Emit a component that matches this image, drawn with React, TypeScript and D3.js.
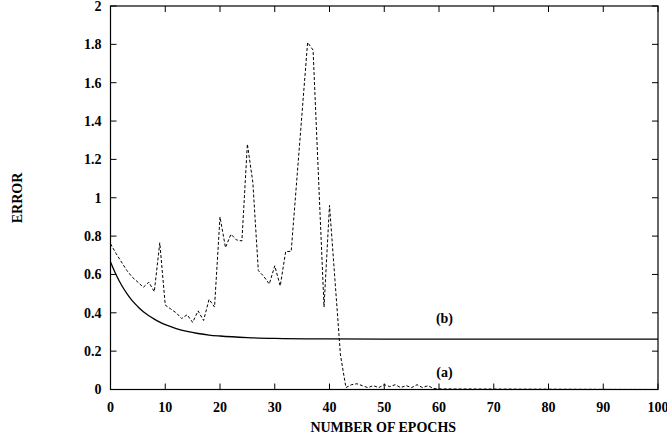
import * as d3 from 'd3'
import { useRef, useEffect } from 'react'

const xTicks = [0, 10, 20, 30, 40, 50, 60, 70, 80, 90, 100]
const yTicks = [0, 0.2, 0.4, 0.6, 0.8, 1, 1.2, 1.4, 1.6, 1.8, 2]

// curve (a): dashed
const epochsA = [0, 1, 2, 3, 4, 5, 6, 7, 8, 9, 10, 11, 12, 13, 14, 15, 16, 17, 18, 19, 20,
  21, 22, 23, 24, 25, 26, 27, 28, 29, 30, 31, 32, 33, 36, 37, 39, 40, 41, 42, 43,
  44, 45, 46, 47, 48, 49, 50, 51, 52, 53, 54, 55, 56, 57, 58, 59, 60, 100]
const errorA = [0.76, 0.71, 0.665, 0.62, 0.585, 0.56, 0.533, 0.56, 0.51, 0.765, 0.44, 0.42, 0.40, 0.37, 0.39, 0.35, 0.41, 0.36, 0.47, 0.43, 0.90,
  0.74, 0.81, 0.78, 0.775, 1.28, 1.08, 0.62, 0.59, 0.55, 0.645, 0.54, 0.72, 0.72, 1.81, 1.77, 0.43, 0.96, 0.57, 0.18, 0.01,
  0.025, 0.03, 0.02, 0.01, 0.02, 0.01, 0.025, 0.015, 0.025, 0.01, 0.02, 0.01, 0.025, 0.01, 0.02, 0.005, 0.003, 0]

// curve (b): solid
const epochsB = [0, 1, 2, 3, 4, 5, 6, 7, 8, 9, 10, 12, 14, 16, 18, 20, 25, 30, 40, 50, 100]
const errorB = [0.665, 0.6, 0.545, 0.5, 0.462, 0.432, 0.406, 0.385, 0.367, 0.351, 0.338, 0.318, 0.303, 0.292, 0.284, 0.279, 0.271, 0.267, 0.264, 0.263, 0.263]

const curveLabels = [
  { text: '(b)', x: 61, y: 0.37 },
  { text: '(a)', x: 61, y: 0.09 },
]

export default function App() {
  const svgRef = useRef<SVGSVGElement>(null)
  const width = 667
  const height = 437

  useEffect(() => {
    const svg = d3.select(svgRef.current)
    svg.selectAll('*').remove()

    const left = 110.5, right = 658, top = 6, bottom = 389.5
    const font = '"Liberation Serif", "Times New Roman", serif'

    const xScale = d3.scaleLinear().domain([0, 100]).range([left, right])
    const yScale = d3.scaleLinear().domain([0, 2]).range([bottom, top])

    const g = svg.append('g')

    // frame
    g.append('rect')
      .attr('x', left).attr('y', top)
      .attr('width', right - left).attr('height', bottom - top)
      .attr('fill', 'none').attr('stroke', 'black').attr('stroke-width', 1.2)

    // inward ticks on all sides
    const tl = 6
    xTicks.forEach(t => {
      const x = xScale(t)
      g.append('line').attr('x1', x).attr('x2', x).attr('y1', bottom).attr('y2', bottom - tl).attr('stroke', 'black')
      g.append('line').attr('x1', x).attr('x2', x).attr('y1', top).attr('y2', top + tl).attr('stroke', 'black')
      g.append('text').text(t)
        .attr('x', x).attr('y', bottom + 22)
        .attr('text-anchor', 'middle')
        .attr('font-family', font).attr('font-weight', 'bold').attr('font-size', 14)
    })
    yTicks.forEach(t => {
      const y = yScale(t)
      g.append('line').attr('x1', left).attr('x2', left + tl).attr('y1', y).attr('y2', y).attr('stroke', 'black')
      g.append('line').attr('x1', right).attr('x2', right - tl).attr('y1', y).attr('y2', y).attr('stroke', 'black')
      g.append('text').text(d3.format('~g')(t))
        .attr('x', left - 9).attr('y', y)
        .attr('dy', '0.35em')
        .attr('text-anchor', 'end')
        .attr('font-family', font).attr('font-weight', 'bold').attr('font-size', 14)
    })

    const line = d3.line<[number, number]>()
      .x(d => xScale(d[0]))
      .y(d => yScale(d[1]))

    g.append('path')
      .datum(epochsB.map((e, i) => [e, errorB[i]] as [number, number]))
      .attr('d', line.curve(d3.curveMonotoneX))
      .attr('fill', 'none').attr('stroke', 'black').attr('stroke-width', 1.3)

    g.append('path')
      .datum(epochsA.map((e, i) => [e, errorA[i]] as [number, number]))
      .attr('d', line.curve(d3.curveLinear))
      .attr('fill', 'none').attr('stroke', 'black').attr('stroke-width', 1)
      .attr('stroke-dasharray', '3,2')

    curveLabels.forEach(l => {
      g.append('text').text(l.text)
        .attr('x', xScale(l.x)).attr('y', yScale(l.y))
        .attr('dy', '0.35em')
        .attr('text-anchor', 'middle')
        .attr('font-family', font).attr('font-weight', 'bold').attr('font-size', 14)
    })

    g.append('text').text('NUMBER OF EPOCHS')
      .attr('x', (left + right) / 2 - 1).attr('y', 432)
      .attr('text-anchor', 'middle')
      .attr('font-family', font).attr('font-weight', 'bold').attr('font-size', 14)

    g.append('text').text('ERROR')
      .attr('transform', `translate(22,198) rotate(-90)`)
      .attr('text-anchor', 'middle')
      .attr('font-family', font).attr('font-weight', 'bold').attr('font-size', 14)
  }, [])

  return (
    <svg ref={svgRef} width={width} height={height}
      style={{ position: 'absolute', left: 0, top: 0, background: 'white' }} />
  )
}
